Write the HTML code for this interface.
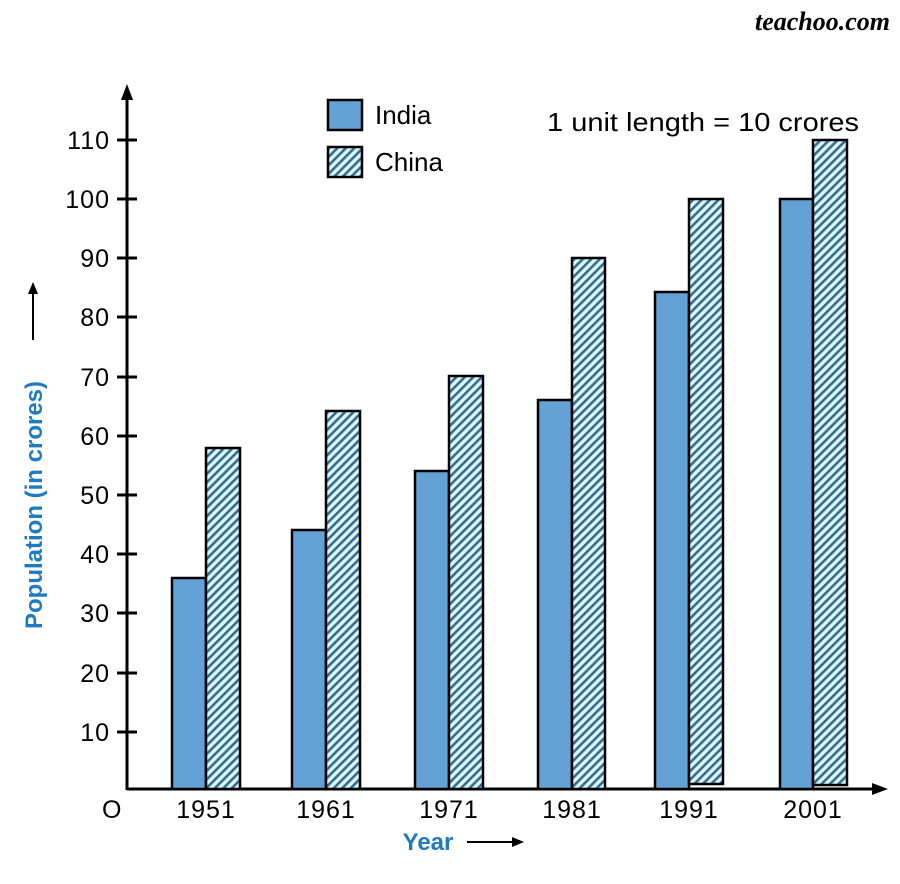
<!DOCTYPE html>
<html><head><style>body{margin:0;background:#fff}svg{display:block}</style></head><body>
<svg width="900" height="884" xmlns="http://www.w3.org/2000/svg" font-family="Liberation Sans, sans-serif">
<defs>
<pattern id="h" width="6" height="6" patternUnits="userSpaceOnUse" patternTransform="rotate(45)">
<rect width="6" height="6" fill="#e2f5fa"/><rect width="2.6" height="6" fill="#2f6f92"/>
</pattern>
</defs>
<text x="890" y="30" text-anchor="end" font-family="Liberation Serif, serif" font-style="italic" font-weight="bold" font-size="26">teachoo.com</text>
<line x1="127" y1="95" x2="127" y2="790" stroke="#000" stroke-width="3"/>
<polygon points="127,84 121,100 133,100" fill="#000"/>
<line x1="127" y1="789" x2="876" y2="789" stroke="#000" stroke-width="3"/>
<polygon points="888,789 872,783 872,795" fill="#000"/>
<g stroke="#000" stroke-width="3">
<line x1="117" x2="137" y1="140" y2="140"/><line x1="117" x2="137" y1="199" y2="199"/><line x1="117" x2="137" y1="258" y2="258"/><line x1="117" x2="137" y1="317" y2="317"/><line x1="117" x2="137" y1="377" y2="377"/><line x1="117" x2="137" y1="436" y2="436"/><line x1="117" x2="137" y1="495" y2="495"/><line x1="117" x2="137" y1="554" y2="554"/><line x1="117" x2="137" y1="613" y2="613"/><line x1="117" x2="137" y1="673" y2="673"/><line x1="117" x2="137" y1="732" y2="732"/>
</g>
<g font-size="25" text-anchor="end" fill="#000" letter-spacing="1">
<text x="110" y="149">110</text><text x="110" y="208">100</text><text x="110" y="267">90</text><text x="110" y="326">80</text><text x="110" y="386">70</text><text x="110" y="445">60</text><text x="110" y="504">50</text><text x="110" y="563">40</text><text x="110" y="622">30</text><text x="110" y="682">20</text><text x="110" y="741">10</text>
</g>
<text x="102" y="818" font-size="25">O</text>
<g font-size="25" text-anchor="middle" letter-spacing="1">
<text x="206" y="818">1951</text><text x="326" y="818">1961</text><text x="449" y="818">1971</text><text x="572" y="818">1981</text><text x="689" y="818">1991</text><text x="813" y="818">2001</text>
</g>
<text x="428" y="850" font-size="24" font-weight="bold" fill="#1f7bbf" text-anchor="middle">Year</text>
<line x1="467" y1="842" x2="515" y2="842" stroke="#000" stroke-width="2"/><polygon points="524,842 512,837 512,847" fill="#000"/>
<text transform="translate(42,505) rotate(-90)" font-size="24" font-weight="bold" fill="#1f7bbf" text-anchor="middle">Population (in crores)</text>
<line x1="33" y1="340" x2="33" y2="292" stroke="#000" stroke-width="2"/><polygon points="33,282 28,294 38,294" fill="#000"/>
<g stroke="#000" stroke-width="2.5">
<rect x="172" y="578" width="34" height="211" fill="#64a2d5"/><rect x="206" y="448" width="34" height="341" fill="url(#h)"/>
<rect x="292" y="530" width="34" height="259" fill="#64a2d5"/><rect x="326" y="411" width="34" height="378" fill="url(#h)"/>
<rect x="415" y="471" width="34" height="318" fill="#64a2d5"/><rect x="449" y="376" width="34" height="413" fill="url(#h)"/>
<rect x="538" y="400" width="34" height="389" fill="#64a2d5"/><rect x="572" y="258" width="33" height="531" fill="url(#h)"/>
<rect x="655" y="292" width="34" height="497" fill="#64a2d5"/><rect x="689" y="199" width="34" height="585" fill="url(#h)"/>
<rect x="780" y="199" width="33" height="590" fill="#64a2d5"/><rect x="813" y="140" width="34" height="645" fill="url(#h)"/>
</g>
<rect x="328" y="100" width="34" height="30" fill="#64a2d5" stroke="#000" stroke-width="2.5"/>
<rect x="328" y="147" width="34" height="30" fill="url(#h)" stroke="#000" stroke-width="2.5"/>
<text x="375" y="124" font-size="26">India</text>
<text x="375" y="171" font-size="26">China</text>
<text x="547" y="131" font-size="26" textLength="312" lengthAdjust="spacingAndGlyphs">1 unit length = 10 crores</text>
</svg>
</body></html>
